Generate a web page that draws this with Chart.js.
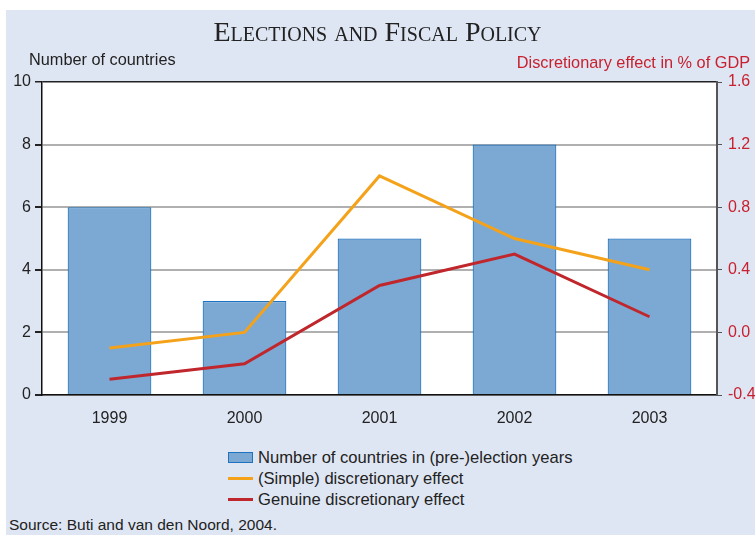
<!DOCTYPE html>
<html>
<head>
<meta charset="utf-8">
<script src="https://cdn.jsdelivr.net/npm/chart.js@4"></script>
<style>
  html, body { margin: 0; padding: 0; background: #fff; }
  #wrap { position: relative; width: 755px; height: 535px; overflow: hidden; font-family: "Liberation Sans", Arial, sans-serif; }
  #panel { position: absolute; left: 6px; top: 10px; width: 749px; height: 525px; background: #dfe6f3; }
  #chart { position: absolute; left: 0; top: 0; }
  .txt { position: absolute; white-space: nowrap; z-index: 2; }
  #title { left: 0; width: 755px; top: 16px; text-align: center; font-family: "Liberation Serif", "Times New Roman", serif; font-size: 28px; font-variant: small-caps; color: #222; }
  #ytitle { left: 29px; top: 50px; font-size: 16.3px; color: #222; }
  #y1title { right: 5px; top: 53px; font-size: 16.3px; color: #c8202f; }
  #legend { left: 228px; top: 447px; font-size: 16.6px; color: #222; }
  #legend div { height: 21px; line-height: 21px; display: flex; align-items: center; }
  #legend span.mark { display: inline-block; width: 25px; margin-right: 5px; box-sizing: border-box; }
  #source { left: 9px; top: 516px; font-size: 15.5px; color: #222; }
</style>
</head>
<body>
<div id="wrap">
  <div id="panel"></div>
  <canvas id="chart" width="755" height="440"></canvas>
  <div class="txt" id="title">Elections and Fiscal Policy</div>
  <div class="txt" id="ytitle">Number of countries</div>
  <div class="txt" id="y1title">Discretionary effect in % of GDP</div>
  <div class="txt" id="legend"></div>
  <div class="txt" id="source">Source: Buti and van den Noord, 2004.</div>
</div>
<script>
const years = ["1999", "2000", "2001", "2002", "2003"];
const countries = [6, 3, 5, 8, 5];
const simpleEffect = [-0.1, 0.0, 1.0, 0.6, 0.4];
const genuineEffect = [-0.3, -0.2, 0.3, 0.5, 0.1];

const FONT = { family: "'Liberation Sans', Arial, sans-serif", size: 16 };
const BAR = "#7ba9d4";
const BAR_EDGE = "#1f72bd";
const ORANGE = "#f5a21b";
const RED = "#c0272d";

// white plot area on the blue panel
const plotBg = {
  id: "plotBg",
  beforeDraw(chart) {
    const { ctx, chartArea: a } = chart;
    ctx.save();
    ctx.fillStyle = "#fff";
    ctx.fillRect(a.left, a.top, a.right - a.left, a.bottom - a.top);
    ctx.restore();
  },
};

const chart = new Chart(document.getElementById("chart").getContext("2d"), {
  type: "bar",
  data: {
    labels: years,
    datasets: [
      {
        type: "bar",
        label: "Number of countries in (pre-)election years",
        data: countries,
        yAxisID: "y",
        backgroundColor: BAR,
        borderColor: BAR_EDGE,
        borderWidth: 1.2,
        barPercentage: 0.62,
        categoryPercentage: 1,
        order: 3,
      },
      {
        type: "line",
        label: "(Simple) discretionary effect",
        data: simpleEffect,
        yAxisID: "y1",
        borderColor: ORANGE,
        backgroundColor: ORANGE,
        borderWidth: 3,
        pointRadius: 0,
        tension: 0,
        order: 2,
      },
      {
        type: "line",
        label: "Genuine discretionary effect",
        data: genuineEffect,
        yAxisID: "y1",
        borderColor: RED,
        backgroundColor: RED,
        borderWidth: 3,
        pointRadius: 0,
        tension: 0,
        order: 1,
      },
    ],
  },
  options: {
    responsive: false,
    animation: false,
    layout: { padding: { top: 82, left: 0, right: 0, bottom: 0 } },
    plugins: {
      legend: { display: false },
      tooltip: { enabled: false },
    },
    scales: {
      x: {
        grid: { display: false, drawTicks: false },
        border: { color: "#111", width: 1.5 },
        ticks: { font: FONT, color: "#222", padding: 14 },
        afterFit: s => { s.height = 45; },
      },
      y: {
        position: "left",
        min: 0,
        max: 10,
        ticks: { stepSize: 2, font: FONT, color: "#222", padding: 4 },
        grid: {
          color: c => (c.tick && c.tick.value === 10 ? "#222" : "#b0b0b0"),
          lineWidth: c => (c.tick && c.tick.value === 10 ? 1.5 : 2),
          tickColor: "#222",
          tickLength: 7,
        },
        border: { color: "#111", width: 1.5 },
        afterFit: s => { s.width = 42; },
      },
      y1: {
        position: "right",
        min: -0.4,
        max: 1.6,
        ticks: {
          stepSize: 0.4,
          font: FONT,
          color: "#c8202f",
          padding: 6,
          callback: v => v.toFixed(1),
        },
        grid: { drawOnChartArea: false, tickColor: "#555", tickLength: 5 },
        border: { color: "#555", width: 2 },
        afterFit: s => { s.width = 38; },
      },
    },
  },
  plugins: [plotBg],
});

// legend in a single left-aligned column, as in the original
const legend = document.getElementById("legend");
chart.data.datasets.forEach(ds => {
  const row = document.createElement("div");
  const mark = document.createElement("span");
  mark.className = "mark";
  if (ds.type === "bar") {
    mark.style.height = "11px";
    mark.style.background = ds.backgroundColor;
    mark.style.border = "1.5px solid " + ds.borderColor;
  } else {
    mark.style.height = "3px";
    mark.style.background = ds.borderColor;
  }
  row.appendChild(mark);
  row.appendChild(document.createTextNode(ds.label));
  legend.appendChild(row);
});
</script>
</body>
</html>
